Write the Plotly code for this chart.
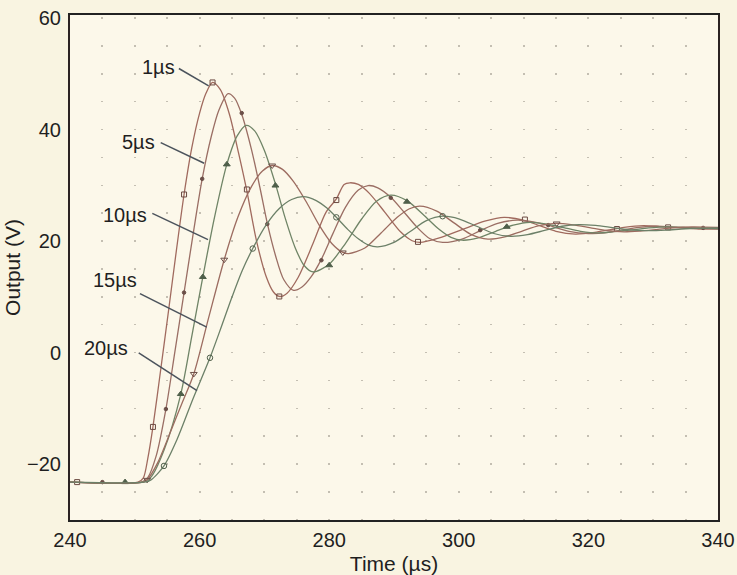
import plotly.graph_objects as go

# ---------------- data ----------------
labels = ["1µs", "5µs", "10µs", "15µs", "20µs"]

# 1 µs curve
t_1 = [240, 250.5, 251.3, 252.0, 252.8, 254.0, 255.2, 256.4, 257.6, 258.8, 260.0, 261.0, 262.0,
       263.2, 264.6, 266.0, 267.3, 268.8, 270.3, 271.4, 272.3, 273.5, 275.2, 277.5, 279.5, 281.1,
       282.3, 283.2, 284.5, 286.2, 288.6, 291.0, 292.8, 294.0, 297.0, 300.5, 304.0, 307.0, 310.2,
       312.5, 315.0, 318.0, 321.0, 323.2, 325.5, 328.5, 331.0, 333.8, 337.0, 340.0]
v_1 = [-23.2, -23.2, -22.5, -19.0, -13.3, -3.0, 7.5, 18.2, 28.4, 36.8, 43.0, 46.6, 48.5,
       47.2, 42.8, 35.9, 29.0, 20.0, 13.6, 10.9, 10.1, 10.7, 13.5, 19.6, 25.2, 27.6,
       30.2, 30.5, 30.2, 28.6, 25.2, 21.7, 20.1, 19.8, 20.6, 22.1, 23.6, 24.3, 23.7,
       22.8, 21.8, 21.3, 21.6, 22.05, 22.5, 22.8, 22.65, 22.45, 22.2, 22.2]
mt_1 = [241.1, 252.8, 257.6, 262.0, 267.3, 272.3, 281.1, 293.7, 310.2, 324.4, 332.3]
mv_1 = [-23.2, -13.3, 28.4, 48.5, 29.3, 10.1, 27.4, 19.9, 23.9, 22.2, 22.5]

# 5 µs curve
t_5 = [240, 251.0, 252.0, 253.3, 254.8, 256.2, 257.6, 259.0, 260.4, 261.8, 263.0, 264.4, 265.4,
       266.5, 268.0, 269.3, 270.45, 271.7, 273.0, 274.5, 275.8, 277.2, 278.8, 280.5, 282.5, 284.5,
       286.0, 287.5, 289.5, 291.5, 293.5, 295.5, 297.5, 300.5, 303.3, 306.0, 309.0, 311.5, 314.0,
       317.0, 320.0, 322.5, 325.0, 327.8, 330.5, 333.5, 337.0, 340.0]
v_5 = [-23.2, -23.2, -22.4, -18.5, -10.1, 0.3, 10.8, 21.3, 31.2, 38.8, 43.6, 46.5, 45.7,
       42.8, 36.5, 29.7, 23.2, 17.5, 13.1, 11.2, 11.8, 13.6, 16.8, 21.2, 26.1, 29.2,
       30.0, 29.6, 27.9, 25.3, 22.6, 20.5, 19.8, 20.4, 21.9, 23.2, 23.8, 23.5, 22.8,
       21.8, 21.4, 21.5, 22.0, 22.5, 22.7, 22.55, 22.35, 22.3]
mt_5 = [245.0, 254.8, 257.6, 260.4, 266.5, 270.45, 278.8, 289.5, 303.3, 313.8, 337.7]
mv_5 = [-23.2, -10.1, 10.8, 31.2, 43.0, 23.1, 16.6, 27.8, 22.0, 22.9, 22.4]

# 10 µs curve
t_10 = [240, 251.2, 252.5, 254.5, 257.1, 258.8, 260.5, 262.3, 264.2, 265.8, 267.2, 268.5, 270.0,
        271.7, 273.2, 274.7, 276.1, 277.5, 280.0, 282.5, 285.0, 287.3, 289.5, 292.0, 294.5, 297.0,
        298.8, 300.5, 303.0, 305.7, 308.4, 311.0, 313.6, 316.2, 318.8, 321.5, 324.0, 326.7, 329.3,
        332.0, 336.0, 340.0]
v_10 = [-23.2, -23.2, -22.3, -17.5, -7.4, 3.0, 13.6, 24.3, 33.8, 38.9, 40.8, 39.8, 36.3,
        30.3, 24.2, 19.0, 15.7, 14.5, 15.9, 19.6, 24.0, 27.2, 28.3, 27.3, 24.8, 22.1,
        20.7, 20.2, 20.6, 21.8, 22.9, 23.4, 23.1, 22.45, 21.8, 21.5, 21.75, 22.05, 22.4,
        22.6, 22.4, 22.3]
mt_10 = [248.5, 257.1, 260.5, 264.2, 271.7, 280.0, 292.0, 307.4]
mv_10 = [-23.2, -7.4, 13.6, 33.8, 30.0, 15.7, 27.1, 22.6]

# 15 µs curve
t_15 = [240, 251.3, 251.9, 253.5, 255.5, 257.3, 259.1, 261.4, 263.8, 265.9, 268.0, 269.7, 271.2,
        272.8, 274.5, 276.5, 278.5, 280.4, 282.1, 283.0, 285.5, 288.0, 290.5, 292.3, 294.0, 296.6,
        299.2, 301.8, 304.5, 307.1, 309.7, 312.4, 315.0, 317.6, 320.2, 322.9, 325.5, 328.0, 330.7,
        333.4, 336.0, 340.0]
v_15 = [-23.2, -23.2, -22.8, -19.8, -14.2, -9.0, -3.8, 6.3, 16.7, 24.3, 29.8, 32.6, 33.6,
        32.9, 30.7, 27.0, 22.8, 19.6, 18.0, 17.8, 18.8, 21.5, 24.3, 25.8, 26.3, 25.4,
        23.35, 21.3, 20.4, 20.8, 21.8, 22.8, 23.2, 22.95, 22.45, 21.9, 21.7, 21.85, 22.15,
        22.45, 22.6, 22.5]
mt_15 = [251.9, 259.1, 263.8, 271.2, 282.1, 315.1]
mv_15 = [-22.8, -3.8, 16.7, 33.6, 18.0, 23.2]

# 20 µs curve
t_20 = [240, 251.5, 252.5, 254.5, 256.5, 259.0, 261.6, 263.4, 265.0, 266.6, 268.2, 270.3, 272.3,
        274.2, 276.0, 278.0, 279.6, 281.1, 282.9, 284.6, 286.1, 287.5, 290.0, 292.5, 295.0, 297.5,
        300.1, 302.75, 305.4, 308.0, 310.6, 313.25, 315.9, 318.5, 321.1, 323.75, 326.4, 329.0,
        332.0, 335.0, 340.0]
v_20 = [-23.2, -23.2, -22.8, -20.3, -15.6, -8.2, -0.9, 4.8, 10.0, 14.8, 18.7, 23.0, 25.9,
        27.5, 28.0, 27.3, 26.0, 24.3, 22.1, 20.35, 19.3, 19.0, 19.8, 21.75, 23.7, 24.5,
        24.0, 22.7, 21.4, 20.9, 21.2, 21.95, 22.7, 23.0, 22.85, 22.45, 22.05, 21.9,
        22.0, 22.25, 22.4]
mt_20 = [254.5, 261.6, 268.2, 281.1, 297.5]
mv_20 = [-20.3, -0.9, 18.7, 24.3, 24.5]

x_ticks = [240, 260, 280, 300, 320, 340]
y_ticks = [-20, 0, 20, 40, 60]

# ---------------- styling ----------------
W, H = 737, 575
M = dict(l=70, r=19, t=15, b=55)
Y_RANGE = [-30, 60.6]
X_RANGE = [240, 340]

FONT = "Liberation Sans, Arial, Helvetica, sans-serif"
TXT = "#1f1f1f"

series = [
    (t_1, v_1, mt_1, mv_1, "#a06a5e", "#6b4a42", "square-open", 5),
    (t_5, v_5, mt_5, mv_5, "#9a6e64", "#6b4f48", "circle", 3.5),
    (t_10, v_10, mt_10, mv_10, "#6f8466", "#4f5f4a", "triangle-up", 6),
    (t_15, v_15, mt_15, mv_15, "#9c6c60", "#6b4f48", "triangle-down-open", 6),
    (t_20, v_20, mt_20, mv_20, "#6c8068", "#4f5f4a", "circle-open", 5.5),
]

fig = go.Figure()
for t, v, mt, mv, lc, mc, sym, ms in series:
    fig.add_trace(go.Scatter(
        x=t, y=v, mode="lines",
        line=dict(color=lc, width=1.3, shape="spline", smoothing=0.8),
        hoverinfo="skip", showlegend=False))
    fig.add_trace(go.Scatter(
        x=mt, y=mv, mode="markers",
        marker=dict(symbol=sym, size=ms, color=mc, line=dict(color=mc, width=1)),
        showlegend=False))

# labels with leader lines (positions in data units)
label_pos = [(253.6, 51.2), (250.5, 37.9), (248.5, 24.8), (246.9, 13.1), (245.6, 0.9)]
leader = [((256.8, 51.0), (261.4, 47.9)),
          ((254.0, 37.7), (260.7, 34.0)),
          ((252.7, 25.0), (261.3, 20.3)),
          ((250.8, 10.6), (261.1, 4.6)),
          ((250.6, 0.0), (259.6, -6.8))]
for lab, (lx, ly), ((x0, y0), (x1, y1)) in zip(labels, label_pos, leader):
    fig.add_annotation(x=lx, y=ly, text=lab, showarrow=False,
                       xanchor="center", yanchor="middle",
                       font=dict(family=FONT, size=20, color=TXT))
    fig.add_shape(type="line", x0=x0, y0=y0, x1=x1, y1=y1, xref="x", yref="y",
                  line=dict(color="#4b535c", width=1.5))

# dotted grid (dots every 5 units)
plot_h = H - M["t"] - M["b"]
ppu = plot_h / (Y_RANGE[1] - Y_RANGE[0])
period = 5 * ppu
off = (Y_RANGE[1] - 60) * ppu - 1
dash = f"0px,{off:.2f}px,1.5px,{period - off - 1.5:.2f}px"
GRID = "#c4bfb2"

fig.update_layout(
    width=W, height=H, margin=M,
    paper_bgcolor="#F9F4E1", plot_bgcolor="#FCF8EA",
    font=dict(family=FONT, size=20, color=TXT),
    xaxis=dict(range=X_RANGE, tickvals=x_ticks, ticks="outside", ticklen=1,
               tickcolor="rgba(0,0,0,0)",
               showline=True, linecolor="#222", linewidth=2, mirror=True,
               showgrid=True, gridcolor=GRID, gridwidth=1.5, griddash=dash,
               minor=dict(dtick=5, showgrid=True, gridcolor=GRID, gridwidth=1.5,
                          griddash=dash),
               zeroline=False, automargin=False,
               tickfont=dict(size=20),
               title=dict(text="Time (µs)", font=dict(size=21), standoff=6)),
    yaxis=dict(range=Y_RANGE, tickvals=y_ticks, ticktext=["\u221220", "0", "20", "40", "60"],
               ticks="outside", ticklen=3, tickcolor="rgba(0,0,0,0)",
               showline=True, linecolor="#2b2222", linewidth=2, mirror=True,
               showgrid=False, zeroline=False, automargin=False,
               tickfont=dict(size=20),
               title=dict(text="Output (V)", font=dict(size=21), standoff=1)),
)

fig.write_html("out.html", config={"displayModeBar": False},
               post_script="document.body.style.margin='0px';document.body.style.background='#F9F4E1';")
